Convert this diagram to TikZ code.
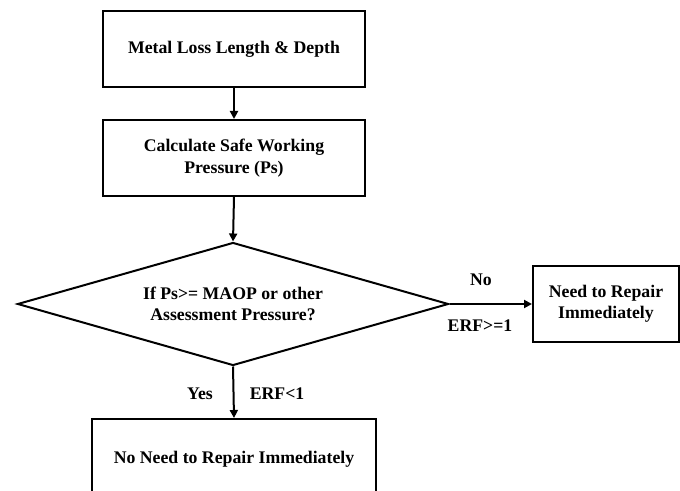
\documentclass[tikz,border=0pt]{standalone}
\usepackage{fontspec}
\setmainfont{Liberation Serif}
\usetikzlibrary{shapes.geometric,arrows.meta}
\begin{document}
\begin{tikzpicture}[x=0.75pt,y=-0.75pt,
  line width=1.5pt,
  every node/.style={font=\bfseries\fontsize{13.3}{16}\selectfont, align=center},
  box/.style={draw, rectangle, inner sep=0pt},
  arr/.style={-{Triangle[length=6pt,width=6pt]}}]
\useasboundingbox (0,0) rectangle (680,491);
\node[box, minimum width=262*0.75pt, minimum height=76*0.75pt] (b1) at (234,49) {Metal Loss Length \& Depth};
\node[box, minimum width=262*0.75pt, minimum height=76*0.75pt] (b2) at (234,158) {Calculate Safe Working\\Pressure (Ps)};
\node[draw, diamond, aspect=3.5, inner sep=0pt, minimum width=431*0.75pt, minimum height=123*0.75pt] (d) at (233,304) {If Ps>= MAOP or other\\Assessment Pressure?};
\node[box, minimum width=146*0.75pt, minimum height=76*0.75pt] (r) at (606,304) {Need to Repair\\Immediately};
\node[box, minimum width=284*0.75pt, minimum height=80*0.75pt] (n) at (234,459) {No Need to Repair Immediately};
\draw[arr] (b1.south) -- (b2.north);
\draw[arr] (b2.south) -- (d.north);
\draw[arr] (d.east) -- (r.west);
\draw[arr] (d.south) -- (n.north);
\node (no) at (481,280) {No};
\node (erf1) at (480,326) {ERF>=1};
\node (yes) at (200,394) {Yes};
\node (erf2) at (277,394) {ERF<1};
\end{tikzpicture}
\end{document}
